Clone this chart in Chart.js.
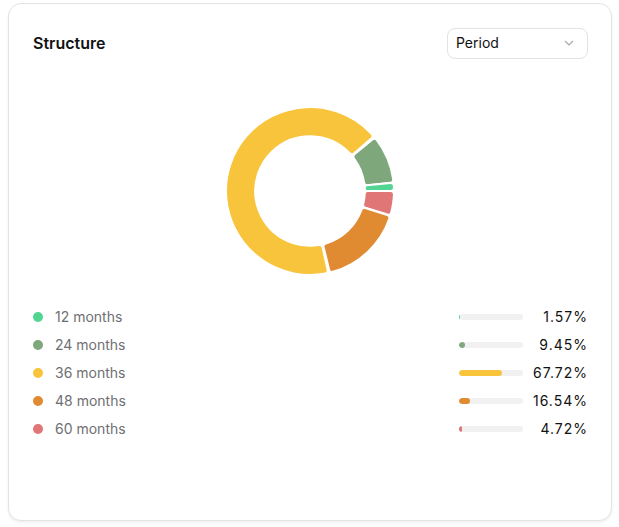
<!DOCTYPE html>
<html>
<head>
<meta charset="utf-8">
<script src="https://cdn.jsdelivr.net/npm/chart.js@4.4.0/dist/chart.umd.min.js"></script>
<style>
  html, body { margin: 0; padding: 0; background: #fff; }
  body { width: 619px; height: 527px; position: relative; font-family: Inter, "Noto Sans", sans-serif; }
  .card {
    position: absolute; left: 8px; top: 3px; width: 604px; height: 518px;
    border: 1px solid #e3e3e3; border-radius: 13px; box-sizing: border-box;
    box-shadow: 0 2px 3px rgba(0,0,0,0.06); background: #fff;
  }
  .title { position: absolute; left: 24px; top: 29px; font-size: 16px; font-weight: 600; color: #111; }
  .select {
    position: absolute; left: 438px; top: 24px; width: 141px; height: 31px; box-sizing: border-box;
    border: 1px solid #e3e3e3; border-radius: 8px; font-size: 14px; color: #111;
    padding-left: 8px; line-height: 28px;
  }
  .select svg { position: absolute; right: 13px; top: 11px; }
  #wrap { position: absolute; left: 216px; top: 102px; width: 170px; height: 170px; }
  .row { position: absolute; left: 0; width: 604px; height: 20px; }
  .dot { position: absolute; left: 24px; top: 5px; width: 10px; height: 10px; border-radius: 50%; }
  .lbl { position: absolute; left: 46px; top: 1px; font-size: 14px; color: #6f6f73; }
  .bar { position: absolute; left: 450px; top: 7px; width: 64px; height: 6px; border-radius: 3px; background: #f1f1f1; overflow: hidden; }
  .bar div { height: 100%; border-radius: 3px; }
  .pct { position: absolute; right: 25px; top: 1px; font-size: 14px; color: #111; letter-spacing: 1px; }
</style>
</head>
<body>
<div class="card">
  <div class="title">Structure</div>
  <div class="select">Period
    <svg width="10" height="6" viewBox="0 0 10 6"><path d="M1 1 L5 5 L9 1" fill="none" stroke="#a8a8a8" stroke-width="1.2"/></svg>
  </div>
  <div id="wrap"><canvas id="structureChart"></canvas></div>
  <div id="legend"></div>
</div>
<script>
const periods = ['12 months', '24 months', '36 months', '48 months', '60 months'];
const shares = [1.57, 9.45, 67.72, 16.54, 4.72];
const colors = ['#52d493', '#7ea87c', '#f8c43b', '#e08b31', '#e07676'];

// legend rows under the doughnut
const legend = document.getElementById('legend');
periods.forEach((p, i) => {
  const row = document.createElement('div');
  row.className = 'row';
  row.style.top = (303 + i * 28) + 'px';
  row.innerHTML =
    '<div class="dot" style="background:' + colors[i] + '"></div>' +
    '<div class="lbl">' + p + '</div>' +
    '<div class="bar"><div style="width:' + shares[i] + '%;background:' + colors[i] + '"></div></div>' +
    '<div class="pct">' + shares[i].toFixed(2) + '%</div>';
  legend.appendChild(row);
});

// chart goes clockwise from 3 o'clock, so feed it reversed
const ctx = document.getElementById('structureChart');
new Chart(ctx, {
  type: 'doughnut',
  data: {
    labels: periods.slice().reverse(),
    datasets: [{
      data: shares.slice().reverse(),
      backgroundColor: colors.slice().reverse(),
      borderColor: '#ffffff',
      borderWidth: 2,
      borderRadius: 3,
      spacing: 1
    }]
  },
  options: {
    responsive: true,
    maintainAspectRatio: false,
    animation: false,
    rotation: 90,
    cutout: '65%',
    layout: { padding: 0 },
    plugins: {
      legend: { display: false },
      tooltip: { enabled: false }
    }
  }
});
</script>
</body>
</html>
